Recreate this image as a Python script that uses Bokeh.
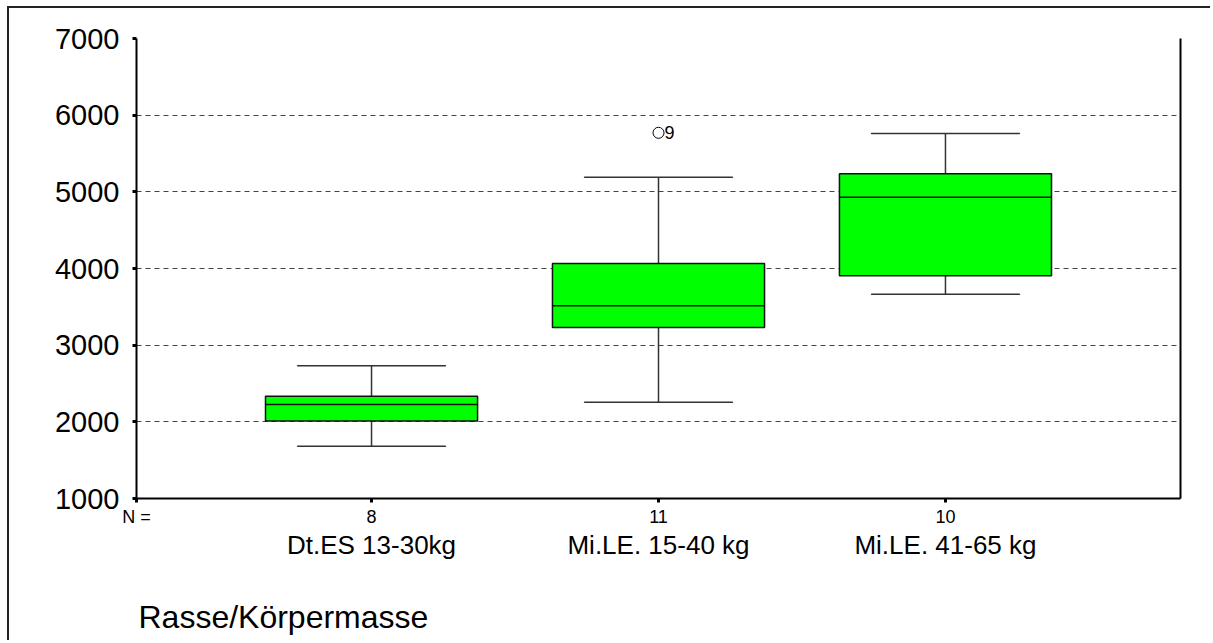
from bokeh.plotting import figure
from bokeh.models import Range1d, LinearAxis, FixedTicker, ColumnDataSource
from bokeh.embed import file_html
from bokeh.resources import INLINE

# ---- data ----
categories = ["Dt.ES 13-30kg", "Mi.LE. 15-40 kg", "Mi.LE. 41-65 kg"]
n_counts = ["8", "11", "10"]
n_prefix = "N ="
positions = [1, 2, 3]
whisker_low = [1680, 2255, 3665]
q1 = [2010, 3230, 3905]
median = [2225, 3515, 4930]
q3 = [2335, 4065, 5235]
whisker_high = [2730, 5190, 5760]
outlier_pos = [2]
outlier_val = [5770]
outlier_lab = ["9"]
y_ticks = [1000, 2000, 3000, 4000, 5000, 6000, 7000]
x_title = "Rasse/Körpermasse"

FONT = "Liberation Sans"
BOX_W = 0.739
CAP_W = 0.516
X_START, X_END = 0.181, 3.819
TITLE_X = 0.693  # centre of the axis title, in x units

src = ColumnDataSource(dict(x=positions, lo=whisker_low, q1=q1, med=median,
                            q3=q3, hi=whisker_high))

p = figure(width=1203, height=634, x_range=Range1d(X_START, X_END),
           y_range=Range1d(1000, 7000), output_backend="svg",
           toolbar_location=None, min_border_left=127, min_border_top=30,
           min_border_right=32, min_border_bottom=144)
p.outline_line_color = None
p.xgrid.visible = False
p.ygrid.ticker = FixedTicker(ticks=y_ticks)
p.ygrid.grid_line_color = "#444444"
p.ygrid.grid_line_dash = "5 4"
p.ygrid.grid_line_width = 1

# y axis
ya = p.yaxis[0]
ya.ticker = FixedTicker(ticks=y_ticks)
ya.minor_tick_line_color = None
ya.major_tick_in = 0
ya.major_tick_out = 4
ya.major_tick_line_width = 3
ya.major_tick_line_color = "black"
ya.axis_line_color = "black"
ya.axis_line_width = 2
ya.major_label_text_font = FONT
ya.major_label_text_font_size = "29px"
ya.major_label_text_color = "black"
ya.major_label_standoff = 13

# x axis with N counts ("N =" sits at the left corner of the frame)
xa = p.xaxis[0]
xa.ticker = FixedTicker(ticks=[X_START] + positions)
overrides = {X_START: n_prefix}
overrides.update({pos: n for pos, n in zip(positions, n_counts)})
xa.major_label_overrides = overrides
xa.minor_tick_line_color = None
xa.major_tick_in = 0
xa.major_tick_out = 4
xa.major_tick_line_width = 3
xa.major_tick_line_color = "black"
xa.axis_line_color = "black"
xa.axis_line_width = 2
xa.major_label_text_font = FONT
xa.major_label_text_font_size = "18px"
xa.major_label_text_color = "black"
xa.major_label_standoff = 4

# category label axis
ca = LinearAxis(ticker=FixedTicker(ticks=positions),
                major_label_overrides={pos: c for pos, c in zip(positions, categories)})
ca.axis_line_color = None
ca.major_tick_line_color = None
ca.minor_tick_line_color = None
ca.major_tick_out = 0
ca.major_label_text_font = FONT
ca.major_label_text_font_size = "26px"
ca.major_label_text_color = "black"
ca.major_label_standoff = 0
p.add_layout(ca, "below")

# axis title row
ta = LinearAxis(ticker=FixedTicker(ticks=[TITLE_X]),
                major_label_overrides={TITLE_X: x_title})
ta.axis_line_color = None
ta.major_tick_line_color = None
ta.minor_tick_line_color = None
ta.major_tick_out = 0
ta.major_label_text_font = FONT
ta.major_label_text_font_size = "32px"
ta.major_label_text_color = "black"
ta.major_label_standoff = 36
p.add_layout(ta, "below")

# right frame line
ra = LinearAxis(ticker=FixedTicker(ticks=[]))
ra.axis_line_color = "black"
ra.axis_line_width = 2
ra.major_tick_line_color = None
ra.minor_tick_line_color = None
ra.major_label_text_font_size = "0px"
p.add_layout(ra, "right")

# whiskers
p.segment(x0="x", y0="q3", x1="x", y1="hi", source=src, line_color="#333333", line_width=1.5)
p.segment(x0="x", y0="lo", x1="x", y1="q1", source=src, line_color="#333333", line_width=1.5)
p.rect(x="x", y="hi", width=CAP_W, height=0.01, source=src, line_color="#333333",
       line_width=1.5, fill_color=None, height_units="screen")
p.rect(x="x", y="lo", width=CAP_W, height=0.01, source=src, line_color="#333333",
       line_width=1.5, fill_color=None, height_units="screen")
# boxes
p.vbar(x="x", width=BOX_W, bottom="q1", top="q3", source=src,
       fill_color="#00FF00", line_color="#111111", line_width=1.5)
p.rect(x="x", y="med", width=BOX_W, height=0.01, source=src, line_color="#111111",
       line_width=1.5, fill_color=None, height_units="screen")

# outlier
osrc = ColumnDataSource(dict(x=outlier_pos, y=outlier_val, lab=outlier_lab))
p.scatter(x="x", y="y", source=osrc, marker="circle", size=11,
          fill_color=None, line_color="black", line_width=1)
p.text(x="x", y="y", text="lab", source=osrc, x_offset=6, text_align="left",
       text_baseline="middle", text_font_size="18px", text_color="black",
       text_font={"value": FONT})

p.styles = {"margin-left": "7px", "margin-top": "6px",
            "border-left": "2px solid #222222", "border-top": "2px solid #222222"}

open("out.html", "w").write(file_html(p, INLINE))
